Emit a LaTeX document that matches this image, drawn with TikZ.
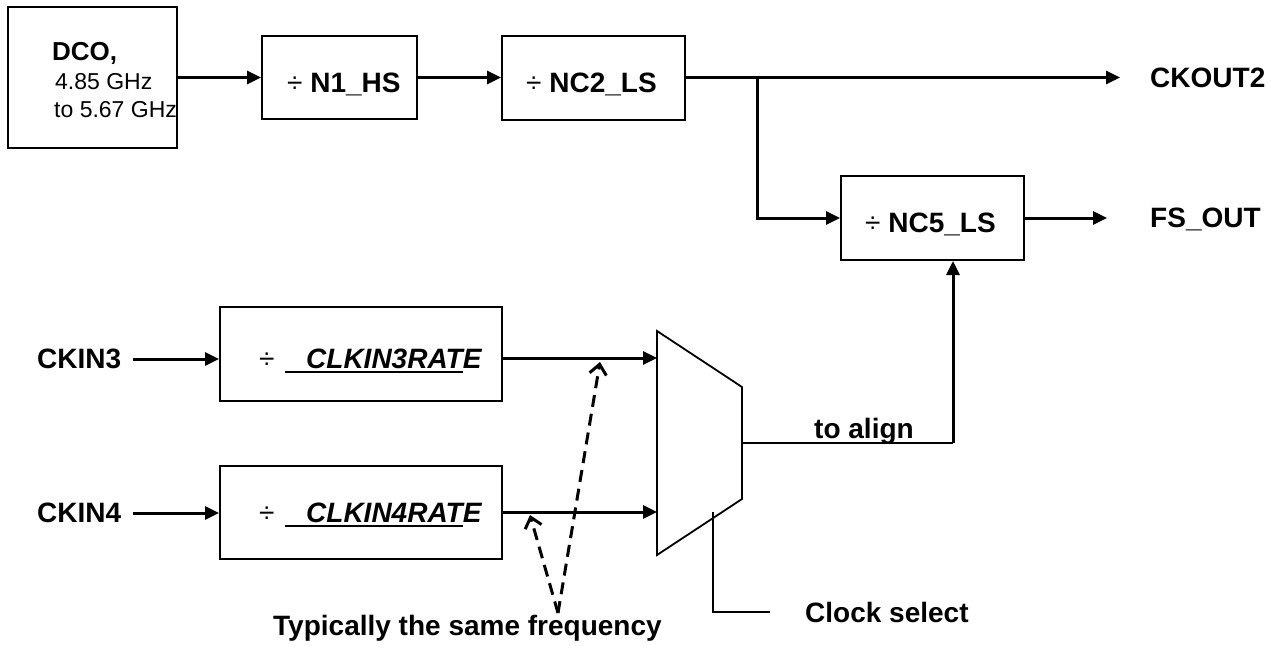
\documentclass[tikz,border=0pt]{standalone}
\usepackage{fontspec}
\setmainfont{Liberation Sans}
\usetikzlibrary{arrows.meta}
\begin{document}
\begin{tikzpicture}[x=1pt,y=-1pt,
  box/.style={draw, line width=2pt, inner sep=0pt},
  lbl/.style={font=\fontsize{28}{34}\selectfont\bfseries, inner sep=0pt, anchor=base west},
  small/.style={font=\fontsize{23}{28}\selectfont, inner sep=0pt, anchor=base west},
  sig/.style={line width=3pt, -{Triangle[length=14pt,width=13pt]}},
  dsh/.style={line width=3pt, dash pattern=on 12pt off 7pt, -{Straight Barb[length=10pt,width=17pt,line width=3pt]}},
  thinline/.style={line width=1.8pt},
  selline/.style={line width=1.3pt}]
\useasboundingbox (0,0) rectangle (1276,645);
% boxes
\node[box, minimum width=169pt, minimum height=141pt] (dco) at (92.5,77.5) {};
\node[box, minimum width=155pt, minimum height=83pt] (n1) at (339.5,77.5) {};
\node[box, minimum width=183pt, minimum height=84pt] (nc2) at (593.5,77.5) {};
\node[box, minimum width=183pt, minimum height=84pt] (nc5) at (932.5,218) {};
\node[box, minimum width=282pt, minimum height=94pt] (ck3) at (361,354) {};
\node[box, minimum width=282pt, minimum height=93pt] (ck4) at (361,512.5) {};
% texts
\node[lbl, font=\fontsize{26}{30}\selectfont\bfseries] (dcot) at (52,60) {DCO,};
\node[small] (dcof1) at (55,89) {4.85 GHz};
\node[small] (dcof2) at (54,117) {to 5.67 GHz};
\node[lbl] (n1t) at (287,92) {{\mdseries ÷} N1\_HS};
\node[lbl] (nc2t) at (526,92) {{\mdseries ÷} NC2\_LS};
\node[lbl] (nc5t) at (865,232) {{\mdseries ÷} NC5\_LS};
\node[lbl] (ck3d) at (259,368) {\mdseries ÷};
\node[lbl] (ck3t) at (306,368) {\itshape CLKIN3RATE};
\node[lbl] (ck4d) at (259,522) {\mdseries ÷};
\node[lbl] (ck4t) at (306,522) {\itshape CLKIN4RATE};
\draw[line width=2pt] (285,372) -- (463,372);
\draw[line width=2pt] (285,526) -- (463,526);
\node[lbl] (ckout) at (1150,87) {CKOUT2};
\node[lbl] (fsout) at (1150,227) {FS\_OUT};
\node[lbl] (in3) at (37,368) {CKIN3};
\node[lbl] (in4) at (37,522) {CKIN4};
\node[lbl] (align) at (814,438) {to align};
\node[lbl] (clksel) at (805,622) {Clock select};
\node[lbl] (typ) at (273,635) {Typically the same frequency};
% coordinates
\coordinate (ckoutend) at (1120,77.5);
\coordinate (br) at (757,77.5);
\coordinate (fsend) at (1107,218);
\coordinate (in3s) at (133,359);
\coordinate (in4s) at (133,513);
\coordinate (m1) at (657,358);
\coordinate (m2) at (657,512);
\coordinate (mA) at (657,331);
\coordinate (mB) at (742,387);
\coordinate (mC) at (742,499);
\coordinate (mD) at (657,555);
\coordinate (mo) at (742,443);
\coordinate (al) at (953,443);
\coordinate (cs0) at (713,512);
\coordinate (cs1) at (770,612);
\coordinate (ap) at (558,613);
\coordinate (t1) at (600,362);
\coordinate (t2) at (530,515);
% mux
\draw[thinline] (mA) -- (mB) -- (mC) -- (mD) -- cycle;
% connectors
\draw[sig] (dco.east) -- (n1.west);
\draw[sig] (n1.east) -- (nc2.west);
\draw[sig] (nc2.east) -- (ckoutend);
\draw[sig] (br) |- (nc5.west);
\draw[sig] (nc5.east) -- (fsend);
\draw[sig] (in3s) -- (in3s -| ck3.west);
\draw[sig] (in4s) -- (in4s -| ck4.west);
\draw[sig] (m1 -| ck3.east) -- (m1);
\draw[sig] (m2 -| ck4.east) -- (m2);
\draw[thinline] (mo) -- (al);
\draw[sig] (al) -- (al |- nc5.south);
\draw[selline] (cs0) |- (cs1);
\draw[dsh] (ap) -- (t1);
\draw[dsh] (ap) -- (t2);
\end{tikzpicture}
\end{document}
